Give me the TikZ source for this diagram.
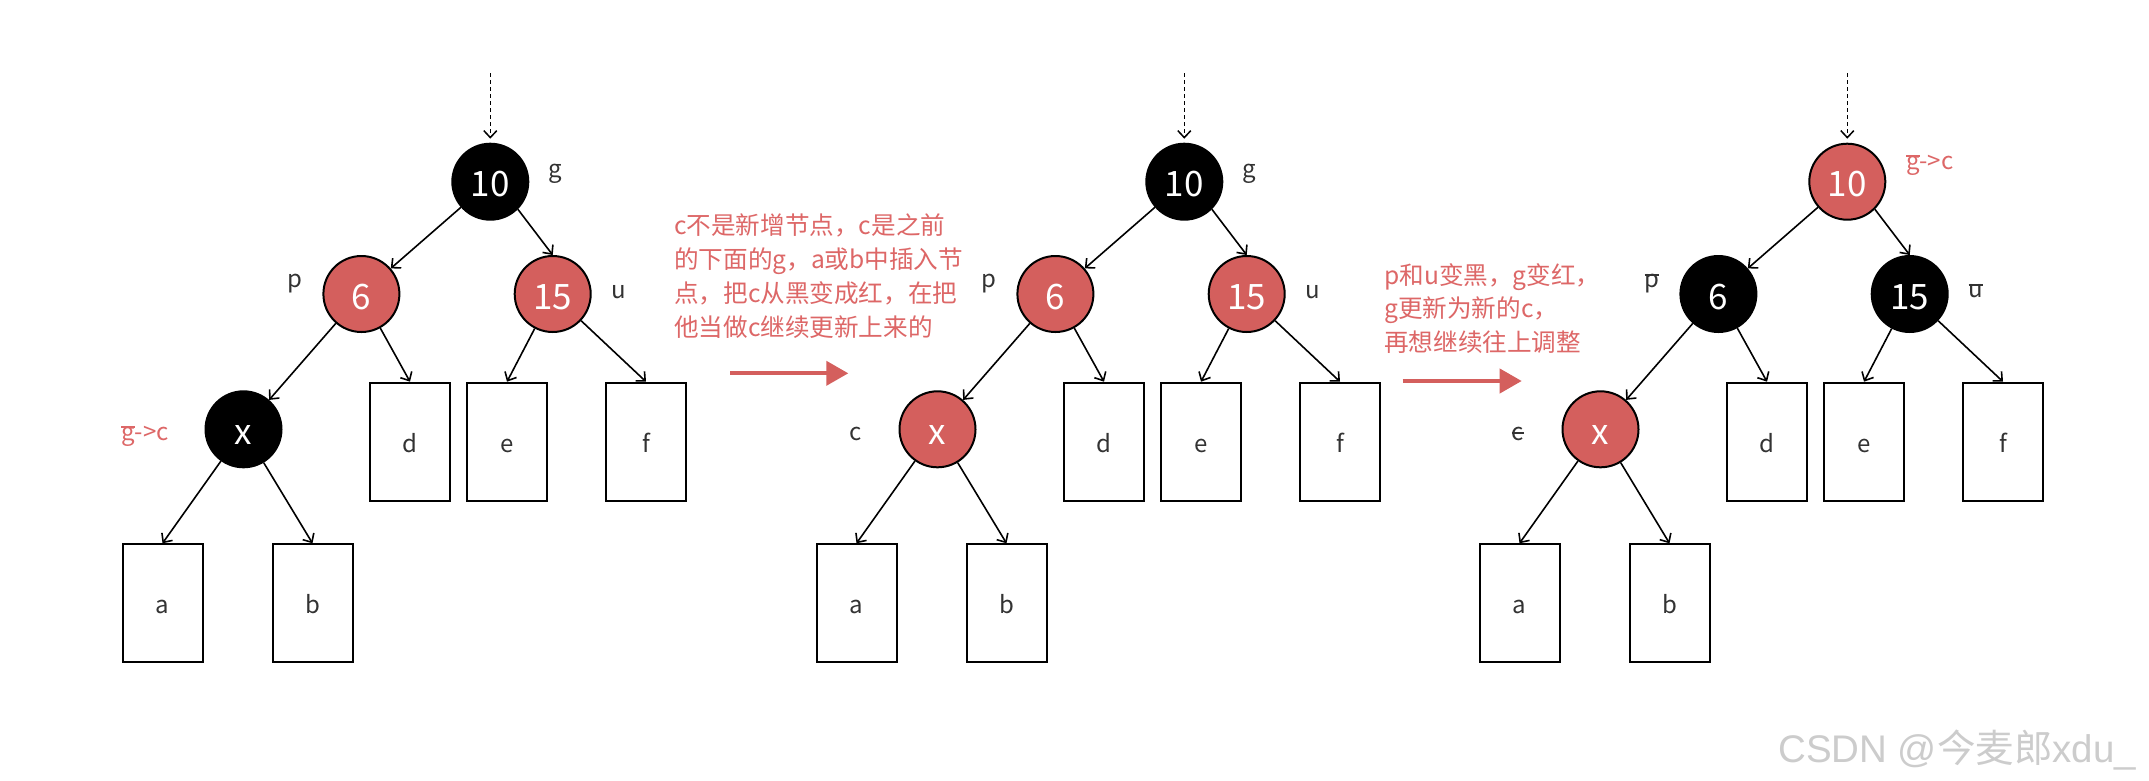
\documentclass[tikz,border=0pt]{standalone}
\usepackage{fontspec}
\setmainfont{Noto Sans CJK SC}
\newfontfamily\wmfont{Liberation Sans}
\usetikzlibrary{arrows.meta}
\definecolor{nodered}{HTML}{D45F5D}
\definecolor{txtred}{HTML}{DD6767}
\definecolor{lblgray}{HTML}{333333}
\newcommand\strk[2]{\setbox0\hbox{#1}\rlap{\rule[#2]{\wd0}{1.6pt}}\box0}
\begin{document}
\begin{tikzpicture}[x=1pt,y=-1pt,
  rbnode/.style={circle, draw=black, line width=2pt, minimum size=76pt, inner sep=0pt, text=white, font=\fontsize{35}{35}\selectfont, text height=30pt, text depth=0pt},
  blknode/.style={rbnode, fill=black},
  rednode/.style={rbnode, fill=nodered},
  leaf/.style={draw=black, line width=2pt, minimum width=80pt, minimum height=118pt, inner sep=0pt, text=lblgray, font=\fontsize{24}{24}\selectfont, text height=21pt, text depth=0pt},
  lbl/.style={anchor=base, inner sep=0pt, text=lblgray, font=\fontsize{24}{24}\selectfont},
  rlbl/.style={anchor=base west, inner sep=0pt, text=txtred, font=\fontsize{24}{24}\selectfont},
  edge/.style={line width=1.6pt, -{Straight Barb[length=7pt,width=13pt]}},
  dotedge/.style={line width=1.5pt, dash pattern=on 4pt off 3pt, -{Straight Barb[length=7pt,width=13pt]}, shorten >=4pt},
  bigarr/.style={draw=nodered, line width=4pt, -{Triangle[length=22pt,width=24pt]}},
  note/.style={anchor=north west, inner sep=0pt, align=left, text=txtred, font=\fontsize{24.6}{34}\selectfont}
]
\fill[white] (0,0) rectangle (2149,780);
\useasboundingbox (0,0) rectangle (2149,780);

% ---------- tree 1 ----------
\node[blknode] (g1) at (490.3,181.7) {10};
\node[rednode] (p1) at (361.4,294) {6};
\node[rednode] (u1) at (552.7,294) {15};
\node[blknode] (x1) at (243.5,429.3) {x};
\node[leaf] (d1) at (410,441.7) {d};
\node[leaf] (e1) at (507,441.7) {e};
\node[leaf] (f1) at (646,441.7) {f};
\node[leaf] (a1) at (162.5,603.3) {a};
\node[leaf] (b1) at (312.5,603.3) {b};
\coordinate (t1) at (490.3,73);
\draw[dotedge] (t1) -- (g1.north);
\draw[edge] (g1) -- (p1);
\draw[edge] (g1.-45) -- (u1.north);
\draw[edge] (p1) -- (x1);
\draw[edge] (p1) -- (d1.north);
\draw[edge] (u1) -- (e1.north);
\draw[edge] (u1) -- (f1.north);
\draw[edge] (x1) -- (a1.north);
\draw[edge] (x1) -- (b1.north);
\node[lbl] (lg1) at (555.4,177) {g};
\node[lbl] (lp1) at (295,287) {p};
\node[lbl] (lu1) at (618.6,298) {u};
\node[rlbl] (lc1) at (121,440) {\strk{g}{12pt}->c};

% ---------- note 1 ----------
\node[note] (n1) at (674,214) {c不是新增节点，c是之前\\的下面的g，a或b中插入节\\点，把c从黑变成红，在把\\他当做c继续更新上来的};
\coordinate (ra1) at (730,373.3);
\coordinate (rb1) at (848.3,373.3);
\draw[bigarr] (ra1) -- (rb1);

% ---------- tree 2 ----------
\node[blknode] (g2) at (1184.3,181.7) {10};
\node[rednode] (p2) at (1055.4,294) {6};
\node[rednode] (u2) at (1246.7,294) {15};
\node[rednode] (x2) at (937.5,429.3) {x};
\node[leaf] (d2) at (1104,441.7) {d};
\node[leaf] (e2) at (1201,441.7) {e};
\node[leaf] (f2) at (1340,441.7) {f};
\node[leaf] (a2) at (856.5,603.3) {a};
\node[leaf] (b2) at (1006.5,603.3) {b};
\coordinate (t2) at (1184.3,73);
\draw[dotedge] (t2) -- (g2.north);
\draw[edge] (g2) -- (p2);
\draw[edge] (g2.-45) -- (u2.north);
\draw[edge] (p2) -- (x2);
\draw[edge] (p2) -- (d2.north);
\draw[edge] (u2) -- (e2.north);
\draw[edge] (u2) -- (f2.north);
\draw[edge] (x2) -- (a2.north);
\draw[edge] (x2) -- (b2.north);
\node[lbl] (lg2) at (1249.4,177) {g};
\node[lbl] (lp2) at (989,287) {p};
\node[lbl] (lu2) at (1312.6,298) {u};
\node[lbl] (lc2) at (856,440) {c};

% ---------- note 2 ----------
\node[note, font=\fontsize{24.6}{33.5}\selectfont] (n2) at (1384,263) {p和u变黑，g变红，\\g更新为新的c，\\再想继续往上调整};
\coordinate (ra2) at (1402.7,381);
\coordinate (rb2) at (1521.7,381);
\draw[bigarr] (ra2) -- (rb2);

% ---------- tree 3 ----------
\node[rednode] (g3) at (1847.3,181.7) {10};
\node[blknode] (p3) at (1718.4,294) {6};
\node[blknode] (u3) at (1909.7,294) {15};
\node[rednode] (x3) at (1600.5,429.3) {x};
\node[leaf] (d3) at (1767,441.7) {d};
\node[leaf] (e3) at (1864,441.7) {e};
\node[leaf] (f3) at (2003,441.7) {f};
\node[leaf] (a3) at (1519.5,603.3) {a};
\node[leaf] (b3) at (1669.5,603.3) {b};
\coordinate (t3) at (1847.3,73);
\draw[dotedge] (t3) -- (g3.north);
\draw[edge] (g3) -- (p3);
\draw[edge] (g3.-45) -- (u3.north);
\draw[edge] (p3) -- (x3);
\draw[edge] (p3) -- (d3.north);
\draw[edge] (u3) -- (e3.north);
\draw[edge] (u3) -- (f3.north);
\draw[edge] (x3) -- (a3.north);
\draw[edge] (x3) -- (b3.north);
\node[rlbl] (lg3) at (1905.8,169) {\strk{g}{12pt}->c};
\node[lbl] (lp3) at (1652,287) {\strk{p}{11.5pt}};
\node[lbl] (lu3) at (1976,297) {\strk{u}{11.5pt}};
\node[lbl] (lc3) at (1518,440) {\strk{c}{6pt}};

% ---------- watermark ----------
\node[anchor=base west, inner sep=0pt, text=black!20, font=\fontsize{38.5}{38.5}\selectfont] (wm) at (1778,762) {{\wmfont CSDN @}今麦郎{\wmfont xdu\_}};
\end{tikzpicture}
\end{document}
